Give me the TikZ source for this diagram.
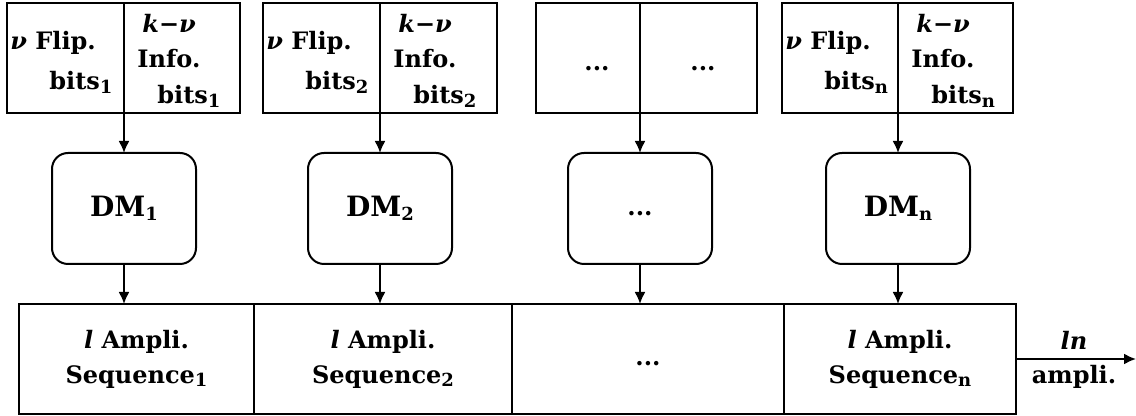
\documentclass[tikz,border=0pt]{standalone}
\usepackage{fontspec}
\setmainfont{DejaVu Serif}
\usetikzlibrary{arrows.meta}
\newcommand{\ital}[1]{{\itshape #1}}
\newcommand{\subs}[1]{\raisebox{-0.3ex}{\fontsize{9}{10}\selectfont #1}}
\newcommand{\tdots}{...}
\begin{document}
\begin{tikzpicture}[x=0.5pt,y=-0.5pt,
  every node/.style={font=\fontsize{12}{17.5}\selectfont\bfseries, inner sep=0pt},
  cell/.style={draw, line width=1pt, outer sep=0pt, minimum height=55pt, anchor=north west},
  dmbox/.style={draw, line width=1pt, outer sep=0pt, rounded corners=8pt, minimum width=72pt, minimum height=55.5pt},
  dmtext/.style={font=\fontsize{14}{16}\selectfont\bfseries},
  seq/.style={draw, line width=1pt, outer sep=0pt, minimum height=55pt, anchor=north west, align=center},
  arr/.style={line width=1pt, -{Latex[length=6pt,width=5.5pt]}},
  lbl/.style={anchor=base west},
  dots/.style={anchor=base}]
\useasboundingbox (0,0) rectangle (1136,416);
% top boxes
\node[cell, minimum width=58.5pt] (f1) at (7,3) {};
\node[cell, minimum width=58pt] (i1) at (124,3) {};
\node[lbl] (f1a) at (10,50) {\ital{ν} Flip.};
\node[lbl] (f1b) at (49,90) {bits\subs{1}};
\node[lbl] (i1a) at (142,33) {\ital{k}−\ital{ν}};
\node[lbl] (i1b) at (137,68) {Info.};
\node[lbl] (i1c) at (157,104) {bits\subs{1}};

\node[cell, minimum width=58.5pt] (f2) at (263,3) {};
\node[cell, minimum width=58.5pt] (i2) at (380,3) {};
\node[lbl] (f2a) at (266,50) {\ital{ν} Flip.};
\node[lbl] (f2b) at (305,90) {bits\subs{2}};
\node[lbl] (i2a) at (398,33) {\ital{k}−\ital{ν}};
\node[lbl] (i2b) at (393,68) {Info.};
\node[lbl] (i2c) at (413,104) {bits\subs{2}};

\node[cell, minimum width=52pt] (f3) at (536,3) {};
\node[cell, minimum width=58.5pt] (i3) at (640,3) {};
\node[dots] (f3a) at (597,71) {\tdots};
\node[dots] (i3a) at (703,71) {\tdots};

\node[cell, minimum width=58pt] (f4) at (782,3) {};
\node[cell, minimum width=57.5pt] (i4) at (898,3) {};
\node[lbl] (f4a) at (785,50) {\ital{ν} Flip.};
\node[lbl] (f4b) at (824,90) {bits\subs{n}};
\node[lbl] (i4a) at (916,33) {\ital{k}−\ital{ν}};
\node[lbl] (i4b) at (911,68) {Info.};
\node[lbl] (i4c) at (931,104) {bits\subs{n}};

% DM boxes
\node[dmbox, dmtext] (dm1) at (124,208.5) {DM\subs{1}};
\node[dmbox, dmtext] (dm2) at (380,208.5) {DM\subs{2}};
\node[dmbox] (dm3) at (640,208.5) {\strut\tdots};
\node[dmbox, dmtext] (dm4) at (898,208.5) {DM\subs{n}};

% sequence boxes
\node[seq, minimum width=117.5pt] (s1) at (19,304) {\ital{l} Ampli.\\Sequence\subs{1}};
\node[seq, minimum width=129pt] (s2) at (254,304) {\ital{l} Ampli.\\Sequence\subs{2}};
\node[seq, minimum width=136pt] (s3) at (512,304) {\strut\tdots};
\node[seq, minimum width=116pt] (s4) at (784,304) {\ital{l} Ampli.\\Sequence\subs{n}};

% connectors
\draw[arr] (f1.south east) -- (dm1.north);
\draw[arr] (f2.south east) -- (dm2.north);
\draw[arr] (f3.south east) -- (dm3.north);
\draw[arr] (f4.south east) -- (dm4.north);
\draw[arr] (dm1.south) -- (dm1.south |- s1.north);
\draw[arr] (dm2.south) -- (dm2.south |- s2.north);
\draw[arr] (dm3.south) -- (dm3.south |- s3.north);
\draw[arr] (dm4.south) -- (dm4.south |- s4.north);

\coordinate (out) at (1136,359);
\draw[arr] (s4.east) -- (s4.east -| out);
\node[dots] (ln) at (1074,350) {\ital{ln}};
\node[dots] (amp) at (1074,384) {ampli.};
\end{tikzpicture}
\end{document}
